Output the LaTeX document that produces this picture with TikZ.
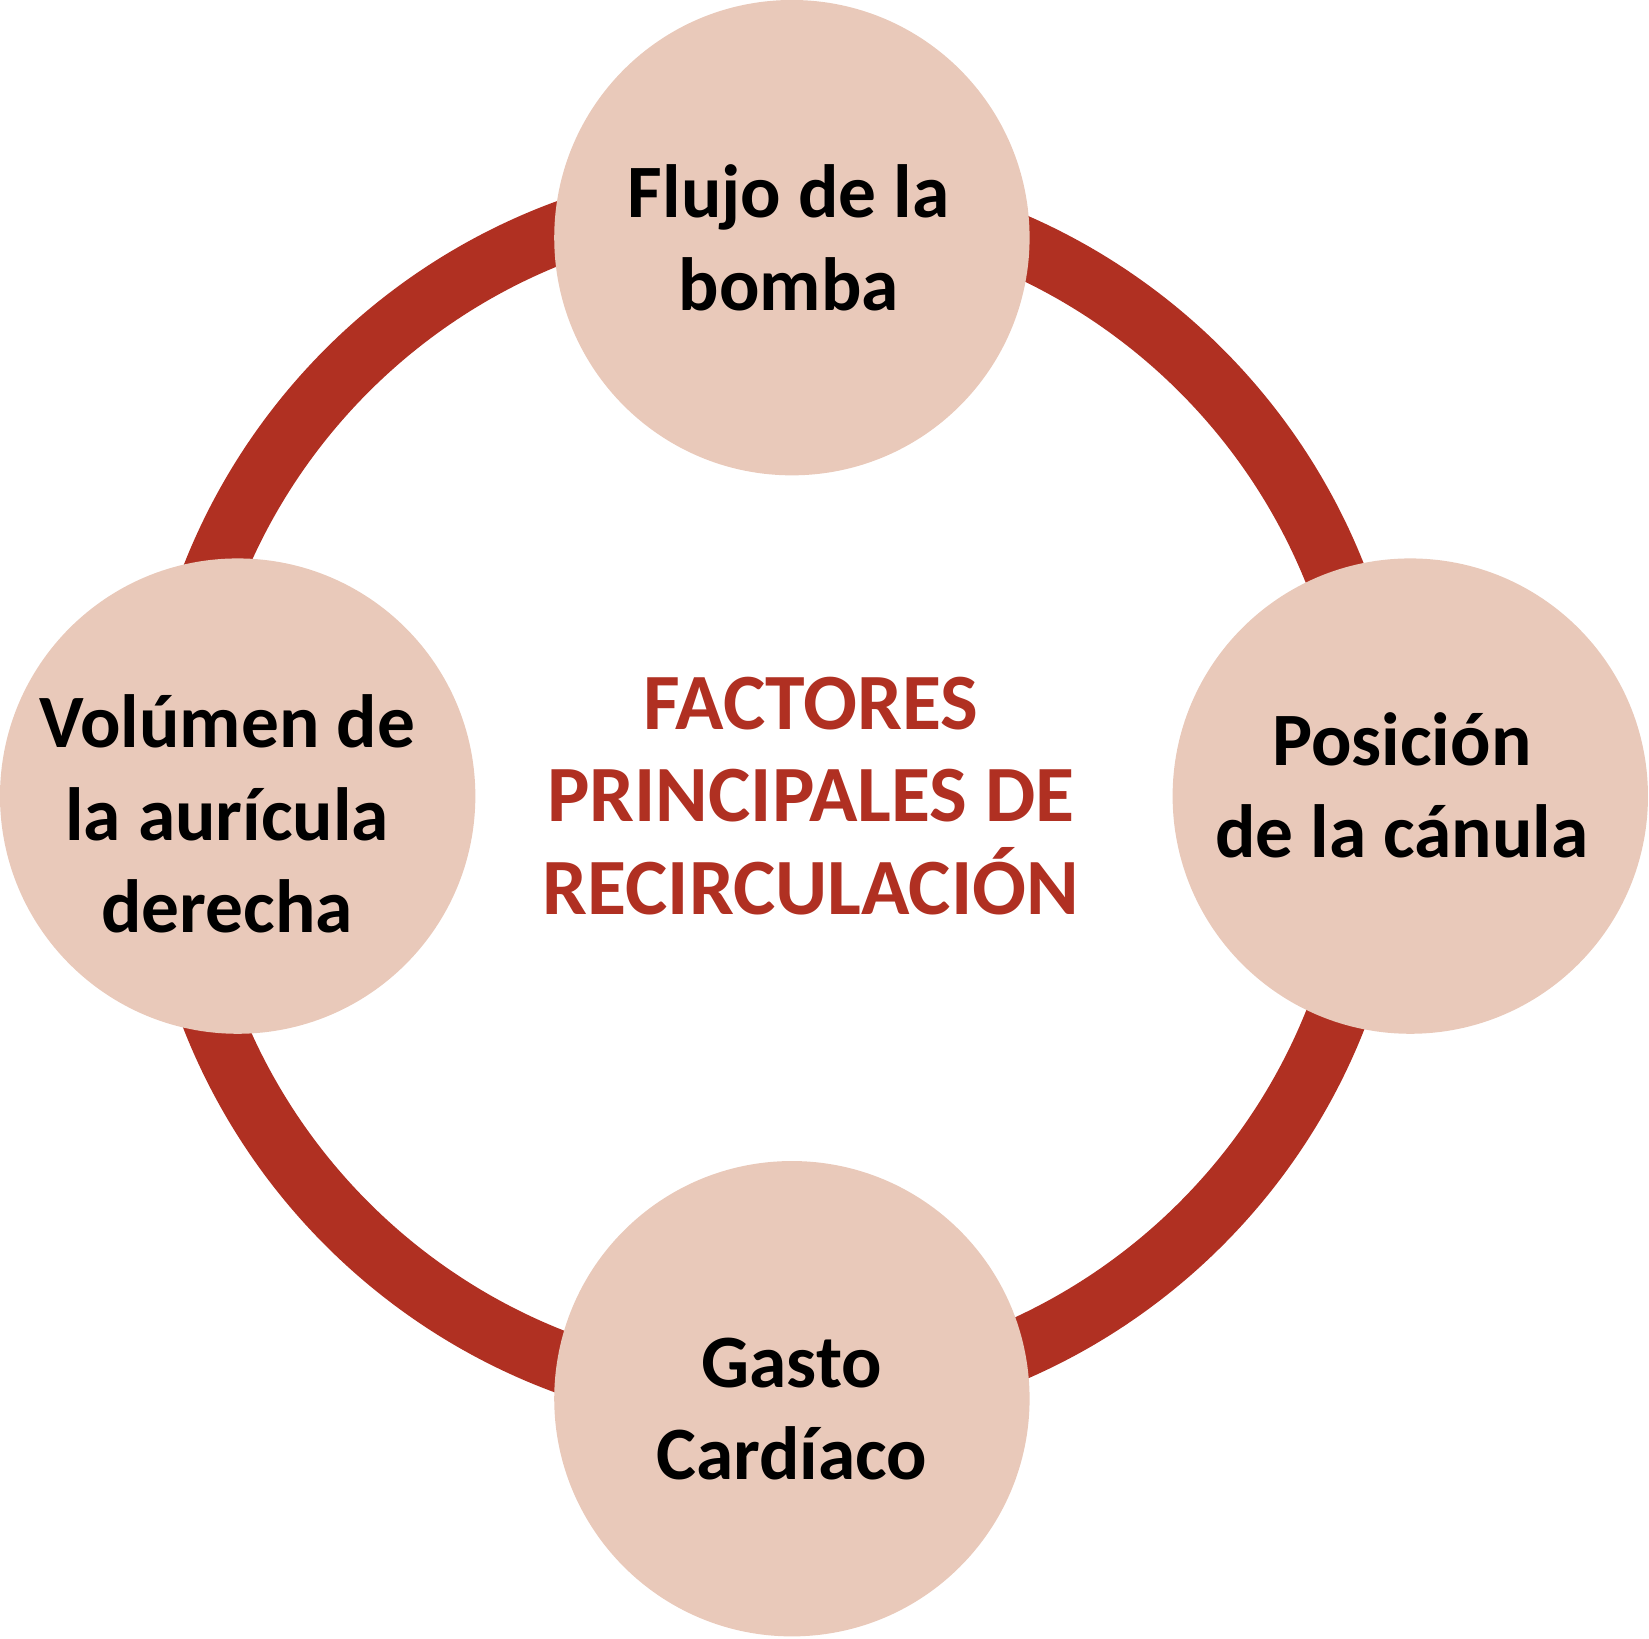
\documentclass[tikz,border=0pt]{standalone}
\usepackage{fontspec}
\setmainfont{Carlito}
\usepackage{xcolor}
\usetikzlibrary{positioning}
\definecolor{ringred}{HTML}{B03022}
\definecolor{factorfill}{HTML}{E9C9BA}

\begin{document}
\begin{tikzpicture}[every node/.style={font=\fontsize{20.4}{25}\selectfont\bfseries}]
\tikzstyle{factor} = [circle, minimum size=4.52cm, inner sep=0pt, fill=factorfill]
\tikzstyle{factortext} = [text=black, align=center]
\tikzstyle{ring} = [draw=ringred, line width=0.58cm]
\tikzstyle{title} = [text=ringred, align=center, font=\fontsize{21.6}{25}\selectfont\bfseries]

\useasboundingbox (0,0) rectangle (15.68,15.58);

\coordinate (hub) at (7.36,8.00);
\draw[ring] (hub) circle (5.74);

\node (flujo) [factor] at (7.53,13.32) {};
\node (posicion) [factor] at (13.41,8.01) {};
\node (gasto) [factor] at (7.53,2.28) {};
\node (volumen) [factor] at (2.26,8.01) {};

\node (flujotxt) [factortext, xshift=-0.03cm] at (flujo) {Flujo de la\\bomba};
\node (posiciontxt) [factortext, xshift=-0.08cm, yshift=0.10cm] at (posicion) {Posición\\de la cánula};
\node (gastotxt) [factortext, yshift=-0.10cm] at (gasto) {Gasto\\Cardíaco};
\node (volumentxt) [factortext, xshift=-0.10cm, yshift=-0.17cm] at (volumen) {Volúmen de\\la aurícula\\derecha};

\node (centro) [title] at (7.71,8.01) {FACTORES\\PRINCIPALES DE\\RECIRCULACIÓN};
\end{tikzpicture}
\end{document}
